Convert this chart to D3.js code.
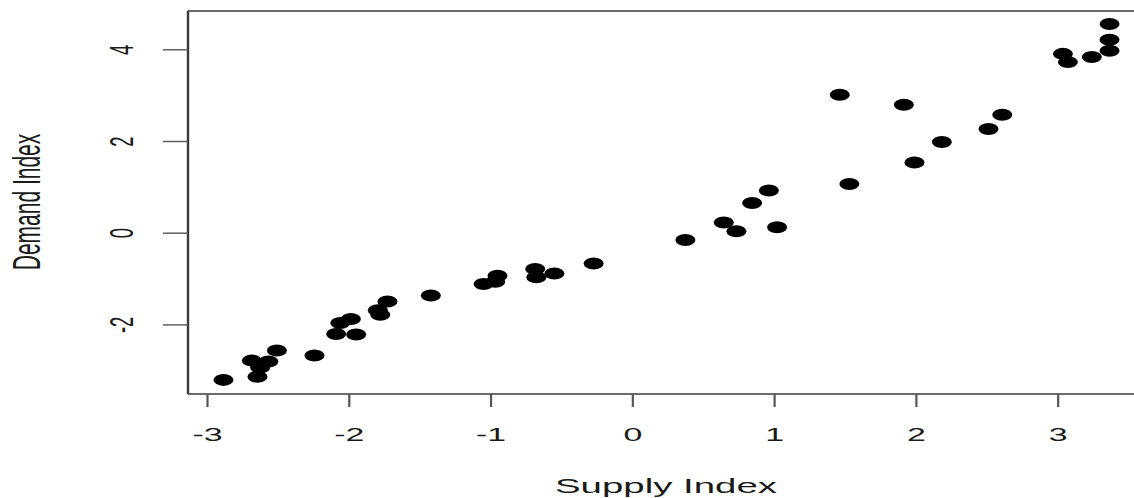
<!DOCTYPE html>
<html>
<head>
<meta charset="utf-8">
<script src="https://cdn.jsdelivr.net/npm/d3@7"></script>
<style>
  body { margin: 0; background: #fff; }
  svg { display: block; }
  text { font-family: "Liberation Sans", Arial, sans-serif; fill: #1a1a1a; }
</style>
</head>
<body>
<svg id="chart" width="1134" height="498"></svg>
<script>
// values
let supply = [-2.884, -2.644, -2.684, -2.625, -2.567, -2.507, -2.242, -2.089, -1.948, -2.06,
              -1.985, -1.778, -1.795, -1.727, -1.421, -1.049, -0.967, -0.951, -0.685, -0.677,
              -0.55, -0.273, 0.374, 0.645, 0.734, 0.845, 0.963, 1.021, 1.463, 1.531,
              1.915, 1.99, 2.183, 2.512, 2.609, 3.037, 3.072, 3.241, 3.366, 3.366, 3.366]
let demand = [-3.21, -3.14, -2.79, -2.94, -2.81, -2.57, -2.68, -2.21, -2.22, -1.97,
              -1.88, -1.79, -1.69, -1.50, -1.37, -1.12, -1.07, -0.94, -0.79, -0.97,
              -0.89, -0.67, -0.16, 0.22, 0.03, 0.65, 0.92, 0.12, 3.01, 1.06,
              2.79, 1.53, 1.98, 2.26, 2.57, 3.90, 3.72, 3.83, 3.97, 4.21, 4.55]
let xTicks = [-3, -2, -1, 0, 1, 2, 3]
let yTicks = [-2, 0, 2, 4]
let xTitle = "Supply Index"
let yTitle = "Demand Index"

const stretch = 1.83 // picture is squashed wide, so text and dots are too
const svg = d3.select("#chart")

const x = d3.scaleLinear().domain([-3.134, 3.616]).range([188, 1145])
const y = d3.scaleLinear().domain([-3.518, 4.835]).range([394, 11])

// plot box (right side falls off the picture)
svg.append("line").attr("x1", 188).attr("x2", 1145).attr("y1", 11).attr("y2", 11)
  .attr("stroke", "#3a3a3a").attr("stroke-width", 1.4)
svg.append("line").attr("x1", 188).attr("x2", 1145).attr("y1", 394).attr("y2", 394)
  .attr("stroke", "#3a3a3a").attr("stroke-width", 1.4)
svg.append("line").attr("x1", 188).attr("x2", 188).attr("y1", 11).attr("y2", 394)
  .attr("stroke", "#3a3a3a").attr("stroke-width", 2.4)

// x axis
const gx = svg.append("g").attr("transform", "translate(0,394)")
  .call(d3.axisBottom(x).tickValues(xTicks).tickSize(13).tickFormat(d3.format("d")))
gx.select(".domain").remove()
gx.selectAll(".tick line").attr("stroke", "#555").attr("stroke-width", 2.2)
gx.selectAll(".tick text")
  .attr("y", 47).attr("dy", null)
  .attr("font-size", 18.5)
  .attr("transform", `scale(${stretch},1)`)
  .text(d => d < 0 ? "-" + Math.abs(d) : d)

// y axis
const gy = svg.append("g").attr("transform", "translate(188,0)")
  .call(d3.axisLeft(y).tickValues(yTicks).tickSize(25).tickFormat(d3.format("d")))
gy.select(".domain").remove()
gy.selectAll(".tick line").attr("stroke", "#555").attr("stroke-width", 1.4)
gy.selectAll(".tick text")
  .attr("x", null).attr("dy", null)
  .attr("text-anchor", "middle")
  .attr("font-size", 18.5)
  .attr("transform", `translate(-55,0) scale(${stretch},1) rotate(-90)`)
  .text(d => d < 0 ? "-" + Math.abs(d) : d)

// titles
svg.append("text")
  .attr("transform", `translate(666,493) scale(${stretch},1)`)
  .attr("text-anchor", "middle")
  .attr("font-size", 21)
  .text(xTitle)

svg.append("text")
  .attr("transform", `translate(40,202) scale(${stretch},1) rotate(-90)`)
  .attr("text-anchor", "middle")
  .attr("font-size", 21)
  .text(yTitle)

// points
svg.append("g")
  .selectAll("ellipse")
  .data(supply.map((s, i) => [s, demand[i]]))
  .join("ellipse")
  .attr("cx", d => x(d[0]))
  .attr("cy", d => y(d[1]))
  .attr("rx", 10)
  .attr("ry", 6)
  .attr("fill", "#000")
</script>
</body>
</html>
